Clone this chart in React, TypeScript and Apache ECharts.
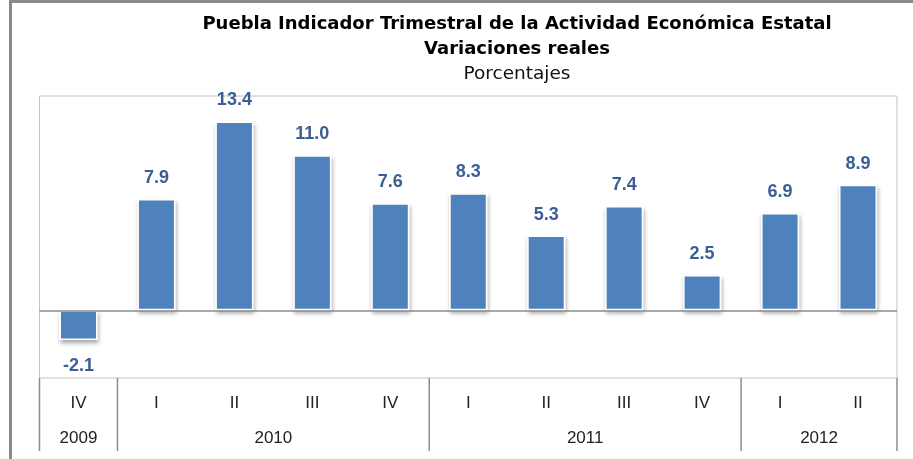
import React, { useEffect, useRef } from 'react';
import * as echarts from 'echarts';

const QUARTERS = ['IV', 'I', 'II', 'III', 'IV', 'I', 'II', 'III', 'IV', 'I', 'II'];
const YEARS = ['2009', '2010', '2011', '2012'];
const YEAR_SPANS = [1, 4, 4, 2];
const VALUES = [-2.1, 7.9, 13.4, 11.0, 7.6, 8.3, 5.3, 7.4, 2.5, 6.9, 8.9];
const TITLE = 'Puebla Indicador Trimestral de la Actividad Económica Estatal';
const SUBTITLE = 'Variaciones reales';
const UNITS = 'Porcentajes';

const FONT = '"Liberation Sans", Arial, sans-serif';
const TITLE_FONT = '"DejaVu Sans", Verdana, sans-serif';

export default function App() {
  const ref = useRef<HTMLDivElement>(null);
  useEffect(() => {
    const chart = echarts.init(ref.current!, null, { renderer: 'svg' });
    const baseGraphic: any[] = [
      { type: 'rect', shape: { x: 9, y: 0, width: 3, height: 459 }, style: { fill: '#8a8a8a' }, silent: true },
      { type: 'rect', shape: { x: 9, y: 0, width: 904, height: 3 }, style: { fill: '#8a8a8a' }, silent: true },
      { type: 'text', style: { text: TITLE, x: 517, y: 22, textAlign: 'center', textVerticalAlign: 'middle', font: `bold 18px ${TITLE_FONT}`, fill: '#000' } },
      { type: 'text', style: { text: SUBTITLE, x: 517, y: 47, textAlign: 'center', textVerticalAlign: 'middle', font: `bold 18px ${TITLE_FONT}`, fill: '#000' } },
      { type: 'text', style: { text: UNITS, x: 517, y: 72, textAlign: 'center', textVerticalAlign: 'middle', font: `18.5px ${TITLE_FONT}`, fill: '#111' } },
    ];
    const option: any = {
      animation: false,
      grid: { left: 39.5, right: 16, top: 96, bottom: 81, show: true, borderColor: '#c4c4c4', borderWidth: 1 },
      xAxis: {
        type: 'category',
        data: QUARTERS,
        axisLine: { show: false },
        axisTick: { show: false },
        axisLabel: { color: '#222', fontSize: 17, fontFamily: FONT, margin: 16, interval: 0 },
      },
      yAxis: { type: 'value', min: -4.8, max: 15.2, show: false },
      series: [
        {
          type: 'bar',
          barWidth: 38,
          data: VALUES.map((v) => (v < 0 ? { value: v, label: { position: 'bottom', distance: 16 } } : v)),
          itemStyle: {
            color: '#4F81BD',
            borderColor: '#ffffff',
            borderWidth: 1.5,
            shadowColor: 'rgba(0,0,0,0.35)',
            shadowBlur: 4,
            shadowOffsetX: 1,
            shadowOffsetY: 3,
          },
          label: {
            show: true,
            position: 'top',
            distance: 13,
            formatter: (p: any) => Number(p.value).toFixed(1),
            color: '#3B5F94',
            fontWeight: 'bold',
            fontSize: 18,
            fontFamily: FONT,
          },
          markLine: {
            silent: true,
            symbol: 'none',
            label: { show: false },
            lineStyle: { color: '#8c8c8c', type: 'solid', width: 1.5 },
            data: [{ yAxis: 0 }],
          },
        },
      ],
      graphic: baseGraphic,
    };
    chart.setOption(option);

    const c0 = chart.convertToPixel({ xAxisIndex: 0 }, 0) as number;
    const c1 = chart.convertToPixel({ xAxisIndex: 0 }, 1) as number;
    const band = c1 - c0;
    const extra: any[] = [];
    let start = 0;
    YEARS.forEach((y, i) => {
      const n = YEAR_SPANS[i];
      const left = c0 + (start - 0.5) * band;
      const center = c0 + (start + (n - 1) / 2) * band;
      extra.push({ type: 'line', shape: { x1: left, y1: 378, x2: left, y2: 451 }, style: { stroke: '#8c8c8c', lineWidth: 1.5 }, silent: true });
      extra.push({ type: 'text', style: { text: y, x: center, y: 437, textAlign: 'center', textVerticalAlign: 'middle', font: `17px ${FONT}`, fill: '#222' } });
      start += n;
    });
    const right = c0 + (start - 0.5) * band;
    extra.push({ type: 'line', shape: { x1: right, y1: 378, x2: right, y2: 451 }, style: { stroke: '#8c8c8c', lineWidth: 1.5 }, silent: true });
    chart.setOption({ graphic: [...baseGraphic, ...extra] });

    return () => chart.dispose();
  }, []);
  return <div ref={ref} style={{ position: 'fixed', left: 0, top: 0, width: 913, height: 459 }} />;
}
